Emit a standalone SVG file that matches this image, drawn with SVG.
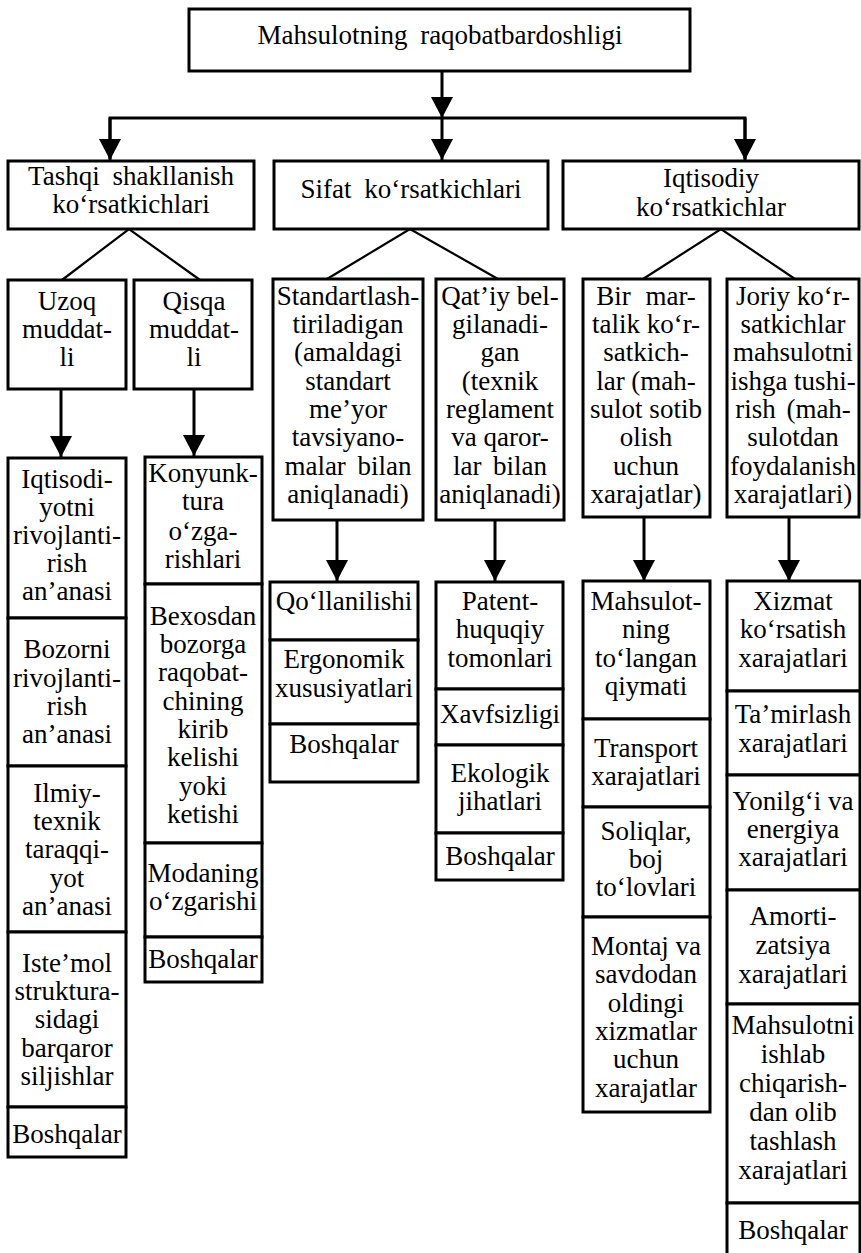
<svg xmlns="http://www.w3.org/2000/svg" width="861" height="1253" viewBox="0 0 861 1253">
<style>
.t{font-family:"Liberation Serif","DejaVu Serif","Times New Roman",serif;font-size:27px;text-anchor:middle;fill:#000}
.b{fill:#fff;stroke:#000;stroke-width:3}
.c{stroke:#000;stroke-width:3;fill:none}
.d{stroke:#000;stroke-width:2.2;fill:none}
</style>
<defs>
<marker id="ad" markerUnits="userSpaceOnUse" markerWidth="22" markerHeight="22" viewBox="0 0 22 22" refX="21" refY="11" orient="auto">
<path d="M0,0 L21,11 L0,22 Z" fill="#000"/>
</marker>
</defs>
<g id="connectors">
<line class="c" x1="442" y1="71" x2="442" y2="118" marker-end="url(#ad)"/>
<polyline class="c" points="110,159 110,118 745,118 745,159"/>
<line class="c" x1="110" y1="118" x2="110" y2="160" marker-end="url(#ad)"/>
<line class="c" x1="442" y1="118" x2="442" y2="160" marker-end="url(#ad)"/>
<line class="c" x1="745" y1="118" x2="745" y2="160" marker-end="url(#ad)"/>
<polyline class="d" points="62,280 129,229 200,280"/>
<polyline class="d" points="327,279 410,229 498,279"/>
<polyline class="d" points="643,279 721,229 795,279"/>
<line class="c" x1="61" y1="389" x2="61" y2="457" marker-end="url(#ad)"/>
<line class="c" x1="194" y1="389" x2="194" y2="456" marker-end="url(#ad)"/>
<line class="c" x1="337" y1="520" x2="337" y2="581" marker-end="url(#ad)"/>
<line class="c" x1="495" y1="520" x2="495" y2="581" marker-end="url(#ad)"/>
<line class="c" x1="644" y1="517" x2="644" y2="581" marker-end="url(#ad)"/>
<line class="c" x1="789" y1="517" x2="789" y2="581" marker-end="url(#ad)"/>
</g>
<g id="root"><rect class="b" x="189" y="9" width="501" height="62"/><text class="t" x="440" y="44" word-spacing="6">Mahsulotning raqobatbardoshligi</text></g>
<g id="n-tashqi"><rect class="b" x="8" y="161" width="246" height="68"/><text class="t"><tspan x="131" y="185" word-spacing="6">Tashqi shakllanish</tspan><tspan x="131" y="213">ko‘rsatkichlari</tspan></text></g>
<g id="n-sifat"><rect class="b" x="274" y="161" width="274" height="68"/><text class="t" x="411" y="198" word-spacing="6">Sifat ko‘rsatkichlari</text></g>
<g id="n-iqtisodiy"><rect class="b" x="563" y="161" width="296" height="68"/><text class="t"><tspan x="711" y="187">Iqtisodiy</tspan><tspan x="711" y="216">ko‘rsatkichlar</tspan></text></g>
<g id="n-uzoq"><rect class="b" x="8" y="280" width="118" height="109"/><text class="t"><tspan x="67" y="310">Uzoq</tspan><tspan x="67" y="338">muddat-</tspan><tspan x="67" y="366">li</tspan></text></g>
<g id="n-qisqa"><rect class="b" x="134" y="280" width="118" height="109"/><text class="t"><tspan x="194" y="310">Qisqa</tspan><tspan x="194" y="338">muddat-</tspan><tspan x="194" y="366">li</tspan></text></g>
<g id="n-standart"><rect class="b" x="273" y="279" width="150" height="241"/><text class="t"><tspan x="348" y="305">Standartlash-</tspan><tspan x="348" y="333">tiriladigan</tspan><tspan x="348" y="361">(amaldagi</tspan><tspan x="348" y="390">standart</tspan><tspan x="348" y="418">me’yor</tspan><tspan x="348" y="446">tavsiyano-</tspan><tspan x="348" y="475" word-spacing="5">malar bilan</tspan><tspan x="348" y="503">aniqlanadi)</tspan></text></g>
<g id="n-qatiy"><rect class="b" x="436" y="279" width="128" height="241"/><text class="t"><tspan x="500" y="305">Qat’iy bel-</tspan><tspan x="500" y="333">gilanadi-</tspan><tspan x="500" y="361">gan</tspan><tspan x="500" y="390">(texnik</tspan><tspan x="500" y="418">reglament</tspan><tspan x="500" y="446">va qaror-</tspan><tspan x="500" y="475" word-spacing="5">lar bilan</tspan><tspan x="500" y="503">aniqlanadi)</tspan></text></g>
<g id="n-bir"><rect class="b" x="583" y="279" width="127" height="238"/><text class="t"><tspan x="646" y="305" word-spacing="8">Bir mar-</tspan><tspan x="646" y="333">talik ko‘r-</tspan><tspan x="646" y="361">satkich-</tspan><tspan x="646" y="390">lar (mah-</tspan><tspan x="646" y="418">sulot sotib</tspan><tspan x="646" y="446">olish</tspan><tspan x="646" y="475">uchun</tspan><tspan x="646" y="503">xarajatlar)</tspan></text></g>
<g id="n-joriy"><rect class="b" x="727" y="279" width="132" height="238"/><text class="t"><tspan x="793" y="305">Joriy ko‘r-</tspan><tspan x="793" y="333">satkichlar</tspan><tspan x="793" y="361">mahsulotni</tspan><tspan x="793" y="390">ishga tushi-</tspan><tspan x="793" y="418" word-spacing="4">rish (mah-</tspan><tspan x="793" y="446">sulotdan</tspan><tspan x="793" y="475">foydalanish</tspan><tspan x="793" y="503">xarajatlari)</tspan></text></g>
<g id="l1-1"><rect class="b" x="8" y="458" width="118" height="160"/><text class="t"><tspan x="67" y="488">Iqtisodi-</tspan><tspan x="67" y="516">yotni</tspan><tspan x="67" y="544">rivojlanti-</tspan><tspan x="67" y="572">rish</tspan><tspan x="67" y="600">an’anasi</tspan></text></g>
<g id="l1-2"><rect class="b" x="8" y="618" width="118" height="148"/><text class="t"><tspan x="67" y="658">Bozorni</tspan><tspan x="67" y="687">rivojlanti-</tspan><tspan x="67" y="715">rish</tspan><tspan x="67" y="743">an’anasi</tspan></text></g>
<g id="l1-3"><rect class="b" x="8" y="766" width="118" height="166"/><text class="t"><tspan x="67" y="802">Ilmiy-</tspan><tspan x="67" y="830">texnik</tspan><tspan x="67" y="858">taraqqi-</tspan><tspan x="67" y="887">yot</tspan><tspan x="67" y="915">an’anasi</tspan></text></g>
<g id="l1-4"><rect class="b" x="8" y="932" width="118" height="175"/><text class="t"><tspan x="67" y="972">Iste’mol</tspan><tspan x="67" y="1000">struktura-</tspan><tspan x="67" y="1028">sidagi</tspan><tspan x="67" y="1057">barqaror</tspan><tspan x="67" y="1085">siljishlar</tspan></text></g>
<g id="l1-5"><rect class="b" x="8" y="1107" width="118" height="50"/><text class="t" x="67" y="1143">Boshqalar</text></g>
<g id="l2-1"><rect class="b" x="145" y="457" width="117" height="127"/><text class="t"><tspan x="203" y="482">Konyunk-</tspan><tspan x="203" y="510">tura</tspan><tspan x="203" y="540">o‘zga-</tspan><tspan x="203" y="568">rishlari</tspan></text></g>
<g id="l2-2"><rect class="b" x="145" y="584" width="117" height="259"/><text class="t"><tspan x="203" y="625">Bexosdan</tspan><tspan x="203" y="653">bozorga</tspan><tspan x="203" y="681">raqobat-</tspan><tspan x="203" y="710">chining</tspan><tspan x="203" y="738">kirib</tspan><tspan x="203" y="766">kelishi</tspan><tspan x="203" y="795">yoki</tspan><tspan x="203" y="823">ketishi</tspan></text></g>
<g id="l2-3"><rect class="b" x="145" y="843" width="117" height="94"/><text class="t"><tspan x="203" y="882">Modaning</tspan><tspan x="203" y="910">o‘zgarishi</tspan></text></g>
<g id="l2-4"><rect class="b" x="145" y="937" width="117" height="45"/><text class="t" x="203" y="968">Boshqalar</text></g>
<g id="l3-1"><rect class="b" x="270" y="582" width="148" height="58"/><text class="t" x="344" y="610">Qo‘llanilishi</text></g>
<g id="l3-2"><rect class="b" x="270" y="640" width="148" height="84"/><text class="t"><tspan x="344" y="668">Ergonomik</tspan><tspan x="344" y="697">xususiyatlari</tspan></text></g>
<g id="l3-3"><rect class="b" x="270" y="724" width="148" height="58"/><text class="t" x="344" y="753">Boshqalar</text></g>
<g id="l4-1"><rect class="b" x="436" y="582" width="127" height="107"/><text class="t"><tspan x="500" y="610">Patent-</tspan><tspan x="500" y="638">huquqiy</tspan><tspan x="500" y="667">tomonlari</tspan></text></g>
<g id="l4-2"><rect class="b" x="436" y="689" width="127" height="56"/><text class="t" x="500" y="723">Xavfsizligi</text></g>
<g id="l4-3"><rect class="b" x="436" y="745" width="127" height="88"/><text class="t"><tspan x="500" y="782">Ekologik</tspan><tspan x="500" y="810">jihatlari</tspan></text></g>
<g id="l4-4"><rect class="b" x="436" y="833" width="127" height="47"/><text class="t" x="500" y="865">Boshqalar</text></g>
<g id="l5-1"><rect class="b" x="583" y="581" width="127" height="138"/><text class="t"><tspan x="646" y="610">Mahsulot-</tspan><tspan x="646" y="638">ning</tspan><tspan x="646" y="667">to‘langan</tspan><tspan x="646" y="695">qiymati</tspan></text></g>
<g id="l5-2"><rect class="b" x="583" y="719" width="127" height="88"/><text class="t"><tspan x="646" y="757">Transport</tspan><tspan x="646" y="785">xarajatlari</tspan></text></g>
<g id="l5-3"><rect class="b" x="583" y="807" width="127" height="110"/><text class="t"><tspan x="646" y="840">Soliqlar,</tspan><tspan x="646" y="868">boj</tspan><tspan x="646" y="896">to‘lovlari</tspan></text></g>
<g id="l5-4"><rect class="b" x="583" y="917" width="127" height="195"/><text class="t"><tspan x="646" y="955">Montaj va</tspan><tspan x="646" y="983">savdodan</tspan><tspan x="646" y="1012">oldingi</tspan><tspan x="646" y="1040">xizmatlar</tspan><tspan x="646" y="1068">uchun</tspan><tspan x="646" y="1097">xarajatlar</tspan></text></g>
<g id="l6-1"><rect class="b" x="727" y="581" width="133" height="110"/><text class="t"><tspan x="793" y="610">Xizmat</tspan><tspan x="793" y="638">ko‘rsatish</tspan><tspan x="793" y="667">xarajatlari</tspan></text></g>
<g id="l6-2"><rect class="b" x="727" y="691" width="133" height="84"/><text class="t"><tspan x="793" y="723">Ta’mirlash</tspan><tspan x="793" y="752">xarajatlari</tspan></text></g>
<g id="l6-3"><rect class="b" x="727" y="775" width="133" height="115"/><text class="t"><tspan x="793" y="810">Yonilg‘i va</tspan><tspan x="793" y="838">energiya</tspan><tspan x="793" y="866">xarajatlari</tspan></text></g>
<g id="l6-4"><rect class="b" x="727" y="890" width="133" height="114"/><text class="t"><tspan x="793" y="925">Amorti-</tspan><tspan x="793" y="954">zatsiya</tspan><tspan x="793" y="983">xarajatlari</tspan></text></g>
<g id="l6-5"><rect class="b" x="727" y="1004" width="133" height="199"/><text class="t"><tspan x="793" y="1034">Mahsulotni</tspan><tspan x="793" y="1063">ishlab</tspan><tspan x="793" y="1092">chiqarish-</tspan><tspan x="793" y="1121">dan olib</tspan><tspan x="793" y="1150">tashlash</tspan><tspan x="793" y="1179">xarajatlari</tspan></text></g>
<g id="l6-6"><rect class="b" x="727" y="1203" width="133" height="54"/><text class="t" x="793" y="1239">Boshqalar</text></g>
</svg>
